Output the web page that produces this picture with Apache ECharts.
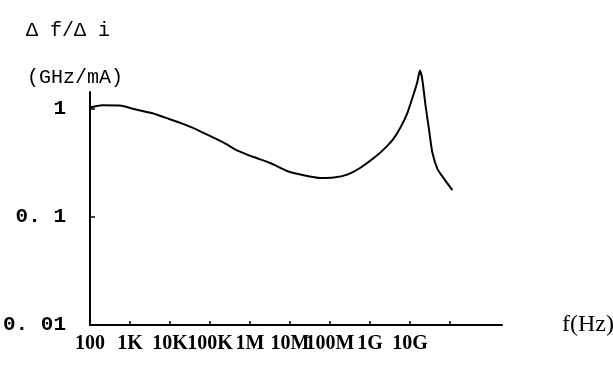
<!DOCTYPE html>
<html>
<head>
<meta charset="utf-8">
<script src="https://cdn.jsdelivr.net/npm/echarts@6/dist/echarts.min.js"></script>
<style>html,body{margin:0;padding:0;background:#fff}#c{width:613px;height:370px}</style>
</head>
<body>
<div id="c"></div>
<script>
// Frequency (Hz) and response Δf/Δi (GHz/mA)
const freqHz = [100, 147, 196, 563, 1340, 3510, 9140, 23900, 62700, 231000, 472000,
  1.23e6, 3.22e6, 8.43e6, 2.2e7, 5.75e7, 1.24e8, 2.69e8, 5.78e8, 1.51e9, 2.7e9,
  3.94e9, 5.81e9, 8.53e9, 1.25e10, 1.52e10, 1.77e10, 2.02e10, 2.45e10, 2.97e10,
  3.61e10, 4.82e10, 7.05e10, 1.15e11];
const ratio = [1.03, 1.06, 1.08, 1.07, 0.99, 0.913, 0.81, 0.713, 0.609, 0.482, 0.413,
  0.358, 0.315, 0.266, 0.243, 0.229, 0.231, 0.246, 0.285, 0.371, 0.454,
  0.533, 0.673, 0.907, 1.387, 1.76, 2.26, 1.897, 1.075, 0.655,
  0.398, 0.28, 0.226, 0.177];

const xTickValues = [1e3, 1e4, 1e5, 1e6, 1e7, 1e8, 1e9, 1e10, 1e11];
const xLabelValues = [1e2, 1e3, 1e4, 1e5, 1e6, 1e7, 1e8, 1e9, 1e10];
const xLabelTexts = ['100', '1K', '10K', '100K', '1M', '10M', '100M', '1G', '10G'];
const yTickValues = [0.1, 1];
const yLabelValues = [0.01, 0.1, 1];
const yLabelTexts = ['0. 01', '0. 1', '1'];

const titleLine1 = 'Δ f/Δ i';
const titleLine2 = '(GHz/mA)';
const xName = 'f(Hz)';

function labelFor(values, texts, v) {
  for (let i = 0; i < values.length; i++) {
    if (Math.abs(Math.log10(v) - Math.log10(values[i])) < 1e-6) return texts[i];
  }
  return '';
}

const chart = echarts.init(document.getElementById('c'), null, {renderer: 'canvas'});
chart.setOption({
  animation: false,
  backgroundColor: '#fff',
  title: [
    {text: titleLine1, left: 21, top: 16,
     textStyle: {fontFamily: 'Liberation Mono', fontSize: 20, fontWeight: 'normal', color: '#000'}},
    {text: titleLine2, left: 22, top: 63,
     textStyle: {fontFamily: 'Liberation Mono', fontSize: 20, fontWeight: 'normal', color: '#000'}}
  ],
  grid: {left: 90, right: 111, top: 92, bottom: 45, containLabel: false, outerBoundsMode: 'none'},
  xAxis: {
    type: 'log', logBase: 10, min: 100, max: 2e12,
    name: xName, nameLocation: 'end', nameGap: 60,
    nameTextStyle: {fontFamily: 'Liberation Serif', fontSize: 24, color: '#000', verticalAlign: 'middle', padding: [12, 0, 0, 0]},
    splitLine: {show: false}, minorTick: {show: false},
    axisLine: {show: true, lineStyle: {color: '#000', width: 2}},
    axisTick: {show: true, inside: true, length: 4, customValues: xTickValues, lineStyle: {color: '#000', width: 1.5}},
    axisLabel: {
      customValues: xLabelValues, margin: 9, hideOverlap: false,
      fontFamily: 'Liberation Serif', fontWeight: 'bold', fontSize: 20, color: '#000',
      formatter: v => labelFor(xLabelValues, xLabelTexts, v)
    }
  },
  yAxis: {
    type: 'log', logBase: 10, min: 0.01, max: 1.43,
    splitLine: {show: false}, minorTick: {show: false},
    axisLine: {show: true, lineStyle: {color: '#000', width: 2}},
    axisTick: {show: true, inside: true, length: 5, customValues: yTickValues, lineStyle: {color: '#000', width: 1.5}},
    axisLabel: {
      customValues: yLabelValues, margin: 24, hideOverlap: false,
      fontFamily: 'Liberation Mono', fontWeight: 'bold', fontSize: 21, color: '#000',
      formatter: v => labelFor(yLabelValues, yLabelTexts, v)
    }
  },
  series: [{
    type: 'line',
    data: freqHz.map((f, i) => [f, ratio[i]]),
    showSymbol: false, smooth: 0.2, clip: false,
    lineStyle: {color: '#000', width: 2}
  }]
});
</script>
</body>
</html>
